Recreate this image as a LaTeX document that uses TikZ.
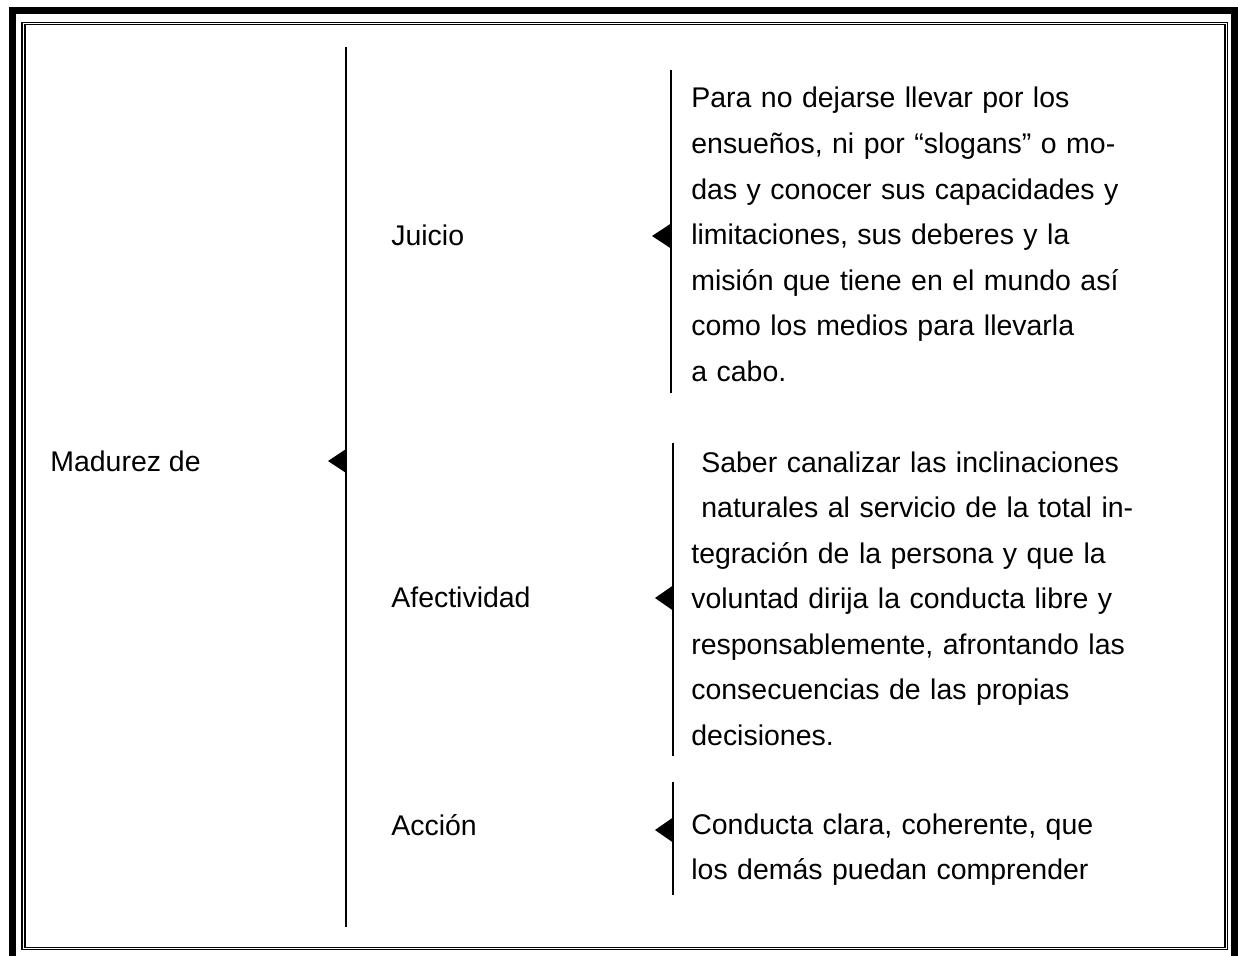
\documentclass[tikz,border=0pt]{standalone}
\usepackage{fontspec}
\setmainfont{Liberation Sans}
\begin{document}
\begin{tikzpicture}[x=0.02cm,y=-0.02cm,
    etiqueta/.style={anchor=base west,inner sep=0pt,font=\fontsize{16.2}{25.9}\selectfont},
    bloque/.style={anchor=base west,inner sep=0pt,text width=9.4cm,align=left,font=\fontsize{16.2}{25.9}\selectfont},
    llave/.style={line width=0.05cm},
    punta/.style={fill=black}]
        \useasboundingbox (0,0) rectangle (1238,956);
        % Marco
        \draw[line width=0.14cm] (12.5,10.5) rectangle (1234,963);
        \draw[line width=0.03cm] (22,22.5) rectangle (1227.5,949.5);
        \draw[line width=0.03cm] (25,24.5) rectangle (1225,947.5);

        % Llave principal
        \coordinate (mtop) at (346,47);
        \coordinate (mbot) at (346,927);
        \coordinate (mtip) at (328,461);
        \draw[llave] (mtop) -- (mbot);
        \fill[punta] (mtip) -- ++(18,-12) -- ++(0,24) -- cycle;
        \node[etiqueta] (madurez) at (50,471) {Madurez de};

        % Juicio
        \node[etiqueta] (juicio) at (391,246) {Juicio};
        \coordinate (jtop) at (671,70);
        \coordinate (jbot) at (671,393);
        \coordinate (jtip) at (652,236);
        \draw[llave] (jtop) -- (jbot);
        \fill[punta] (jtip) -- ++(19,-12.5) -- ++(0,25) -- cycle;
        \node[bloque] (tjuicio) at (691,108) {Para no dejarse llevar por los\\
            ensueños, ni por “slogans” o mo-\\
            das y conocer sus capacidades y\\
            limitaciones, sus deberes y la\\
            misión que tiene en el mundo así\\
            como los medios para llevarla\\
            a cabo.};

        % Afectividad
        \node[etiqueta] (afect) at (391,607) {Afectividad};
        \coordinate (atop) at (673,443);
        \coordinate (abot) at (673,756);
        \coordinate (atip) at (655,598);
        \draw[llave] (atop) -- (abot);
        \fill[punta] (atip) -- ++(18,-12.5) -- ++(0,25) -- cycle;
        \node[bloque] (tafect) at (691,472) {\hspace*{0.2cm}Saber canalizar las inclinaciones\\
            \hspace*{0.2cm}naturales al servicio de la total in-\\
            tegración de la persona y que la\\
            voluntad dirija la conducta libre y\\
            responsablemente, afrontando las\\
            consecuencias de las propias\\
            decisiones.};

        % Acción
        \node[etiqueta] (accion) at (391,835) {Acción};
        \coordinate (ctop) at (673,782);
        \coordinate (cbot) at (673,895);
        \coordinate (ctip) at (655,830);
        \draw[llave] (ctop) -- (cbot);
        \fill[punta] (ctip) -- ++(18,-12.5) -- ++(0,25) -- cycle;
        \node[bloque] (taccion) at (691,834) {Conducta clara, coherente, que\\
            los demás puedan comprender};
    \end{tikzpicture}
\end{document}
